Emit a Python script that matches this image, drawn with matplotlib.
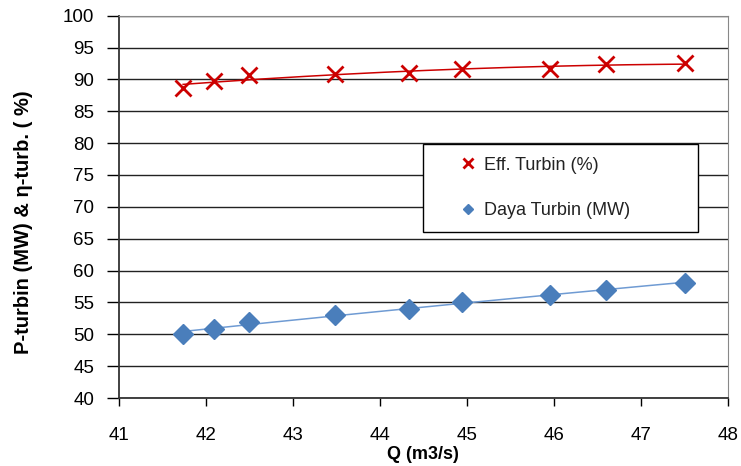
import numpy as np
import matplotlib
matplotlib.use("Agg")
from matplotlib import pyplot as plt
from matplotlib.lines import Line2D

# values
q = [41.74, 42.09, 42.50, 43.49, 44.33, 44.94, 45.95, 46.60, 47.51]
eff = [88.6, 89.7, 90.7, 90.8, 91.0, 91.7, 91.7, 92.4, 92.5]
daya = [50.0, 50.9, 52.0, 53.0, 54.0, 55.0, 56.1, 57.0, 58.1]

xticks = [41, 42, 43, 44, 45, 46, 47, 48]
yticks = list(range(40, 101, 5))

red = "#cc0000"
blue = "#4a7ebb"

plt.rcParams['font.family'] = ['Liberation Sans', 'DejaVu Sans']

fig = plt.figure(figsize=(7.41, 4.66), dpi=100)
ax = fig.add_axes([0.1602, 0.1459, 0.8223, 0.8204])

# trendlines like excel draws them
qq = np.linspace(min(q), max(q), 200)
c = np.polyfit(q, eff, 2)
ax.plot(qq, np.polyval(c, qq), color=red, lw=1.1, zorder=3)
a, b = np.polyfit(np.log(q), daya, 1)
ax.plot(qq, a * np.log(qq) + b, color="#6f9bd3", lw=1.1, zorder=3)

ax.plot(q, eff, ls="none", marker="x", ms=12, mew=2, color=red, zorder=4)
ax.plot(q, daya, ls="none", marker="D", ms=10.5, color=blue, zorder=4)

ax.set_xlim(41, 48)
ax.set_ylim(40, 100)
ax.set_xticks(xticks)
ax.set_yticks(yticks)
ax.yaxis.grid(True, color="#222222", lw=1.0)
ax.set_axisbelow(True)

for s in ["top", "right"]:
    ax.spines[s].set_color("#888888")
for s in ["left", "bottom"]:
    ax.spines[s].set_color("#333333")
    ax.spines[s].set_linewidth(1.3)

ax.tick_params(axis="y", direction="out", length=9, width=1, labelsize=13.5, pad=8.5)
ax.tick_params(axis="x", direction="out", length=6, width=1, labelsize=13.5, pad=15)

ax.set_xlabel("Q (m3/s)", fontsize=13, fontweight="bold")
ax.xaxis.set_label_coords(0.5, -0.125)
ax.set_ylabel("P-turbin (MW) & \u03b7-turb. ( %)", fontsize=14.5, fontweight="bold")
ax.yaxis.set_label_coords(-0.14, 0.46)

handles = [
    Line2D([], [], ls="none", marker="x", ms=7, mew=2, color=red),
    Line2D([], [], ls="none", marker="D", ms=5, color=blue),
]
leg = ax.legend(handles, ["Eff. Turbin (%)", "Daya Turbin (MW)"],
                loc="lower left", bbox_to_anchor=(0.4994, 0.434, 0.452, 0.22),
                mode="expand", fontsize=13, labelspacing=1.6, borderpad=0.7,
                handlelength=3.6, handletextpad=-0.9, borderaxespad=0,
                fancybox=False, framealpha=1, edgecolor="black")
leg.get_frame().set_linewidth(1.0)
for t in leg.get_texts():
    t.set_color("#222222")

fig.savefig("out.png", dpi=100)
